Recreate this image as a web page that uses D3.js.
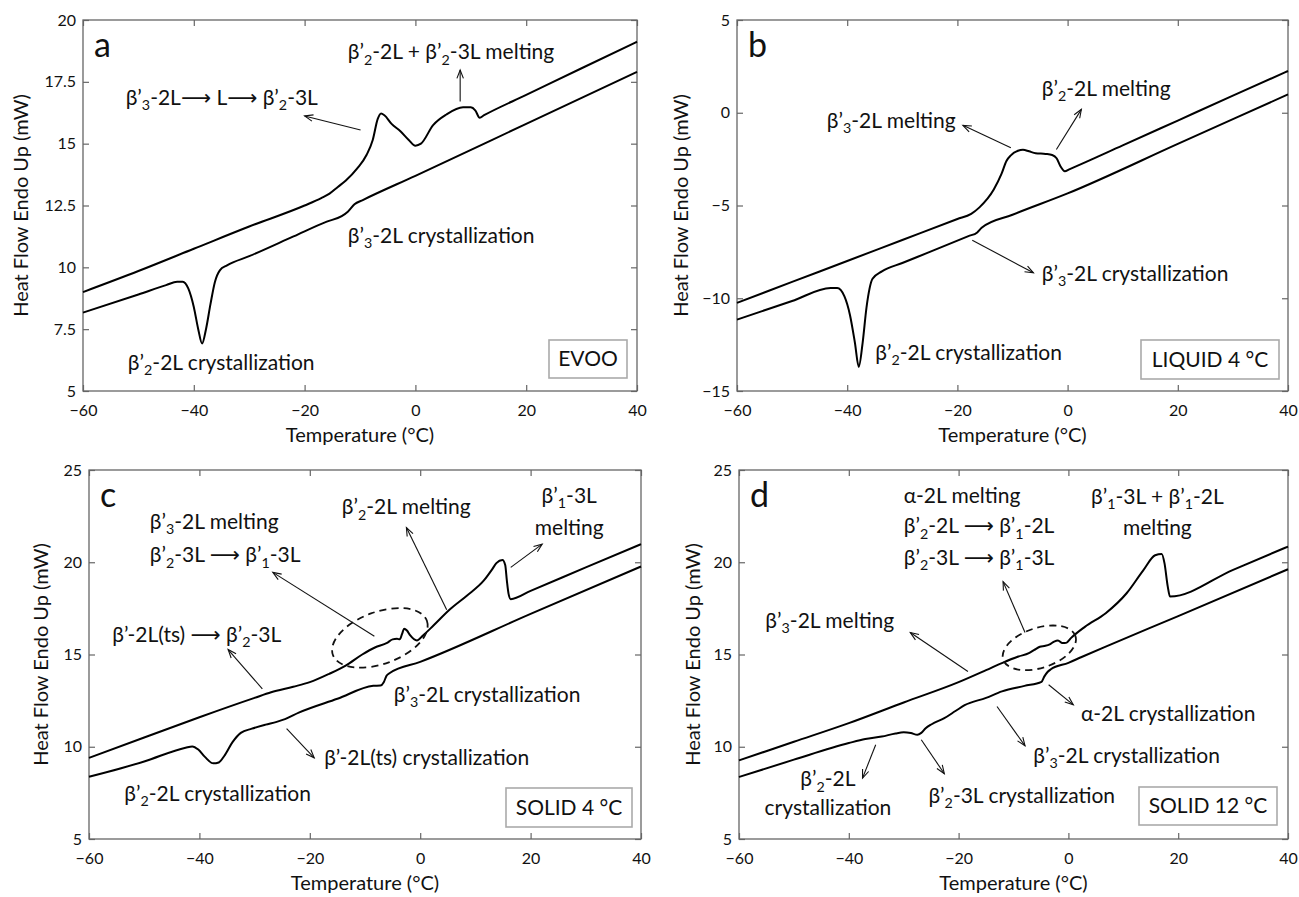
<!DOCTYPE html>
<html>
<head>
<meta charset="utf-8">
<script src="https://cdn.jsdelivr.net/npm/d3@7"></script>
<style>
  body { margin: 0; background: #fff; }
  text { font-family: Lato, "Open Sans", "DejaVu Sans", sans-serif; fill: #111; }
</style>
</head>
<body>
<svg id="chart" width="1299" height="897"></svg>
<script>
// ---- data (temperature °C, heat flow mW) ----
const xTicks = [-60, -40, -20, 0, 20, 40];
const yTicksA = [5, 7.5, 10, 12.5, 15, 17.5, 20];
const yTicksB = [-15, -10, -5, 0, 5];
const yTicksCD = [5, 10, 15, 20, 25];

// EVOO
const heatA = [[-60,9.0],[-50,9.85],[-40,10.75],[-30,11.65],[-20,12.5],[-17,12.8],[-15.5,12.98],[-14,13.25],
  [-12.6,13.5],[-10.5,14.0],[-8.8,14.55],[-7.7,15.15],[-6.8,16.0],[-6.2,16.22],[-5.6,16.15],[-4.3,15.8],
  [-2.7,15.5],[-1.2,15.15],[0,14.92],[1,15.0],[3.2,15.75],[5.6,16.18],[8.6,16.47],[10.0,16.47],[10.8,16.35],
  [11.6,16.05],[12.4,16.15],[20,16.97],[30,18.05],[40,19.12]];
const coolA = [[-60,8.17],[-50,8.9],[-45,9.28],[-43,9.42],[-42,9.42],[-41,9.15],[-40,8.4],[-39.2,7.5],[-38.5,6.92],
  [-37.8,7.5],[-37,8.5],[-36.2,9.4],[-35.3,9.88],[-34,10.08],[-30,10.45],[-22,11.25],[-16,11.85],[-13.3,12.07],
  [-12.2,12.25],[-11,12.55],[-9.5,12.72],[0,13.7],[20,15.8],[40,17.9]];

// LIQUID 4 °C
const heatB = [[-60,-10.25],[-50,-9.12],[-40,-7.99],[-30,-6.86],[-20,-5.73],[-17.5,-5.45],[-16,-5.1],[-13.4,-4.14],
  [-12,-3.3],[-11.1,-2.6],[-10.3,-2.3],[-9,-2.05],[-8.1,-2.0],[-7,-2.08],[-5.8,-2.18],[-4,-2.22],[-2.8,-2.28],
  [-2.0,-2.45],[-1.3,-2.88],[-0.5,-3.15],[0.3,-3.05],[10,-1.76],[20,-0.42],[30,0.92],[40,2.25]];
const coolB = [[-60,-11.15],[-50,-10.15],[-43,-9.45],[-41.8,-9.45],[-40.5,-9.9],[-39.5,-10.9],[-38.6,-12.4],
  [-37.9,-13.7],[-37.2,-12.4],[-36.5,-10.5],[-35.4,-8.95],[-33.7,-8.55],[-30,-8.1],[-25,-7.5],[-18,-6.65],
  [-16.4,-6.45],[-15.6,-6.2],[-10,-5.5],[0,-4.35],[20,-1.68],[40,0.99]];

// SOLID 4 °C
const heatC = [[-60,9.4],[-50,10.5],[-40,11.6],[-30,12.65],[-27,12.95],[-23,13.25],[-20,13.5],[-16.5,13.95],
  [-13.5,14.4],[-10.5,15.0],[-8.2,15.38],[-6,15.63],[-5,15.82],[-4.2,15.85],[-3.7,15.82],[-3.3,16.1],[-2.9,16.4],
  [-2.4,16.3],[-1.8,16.03],[-0.6,15.76],[0.5,16.03],[2.4,16.57],[5.4,17.45],[8.5,18.2],[11.5,19.0],[13.0,19.6],
  [13.8,19.95],[14.9,20.12],[15.4,19.85],[15.7,19.0],[16.0,18.3],[16.4,18.0],[20,18.45],[30,19.72],[40,20.98]];
const coolC = [[-60,8.37],[-50,9.2],[-42.5,9.95],[-41.3,10.02],[-40.2,9.85],[-39,9.45],[-37.5,9.1],[-36.5,9.15],
  [-35.5,9.5],[-34,10.25],[-32.5,10.75],[-30.5,10.98],[-28,11.2],[-26,11.35],[-24.5,11.5],[-22,11.85],[-15,12.6],
  [-8.5,13.3],[-7.2,13.32],[-6.6,13.5],[-6.1,13.85],[-5.5,14.0],[0,14.6],[20,17.2],[40,19.77]];

// SOLID 12 °C
const heatD = [[-60,9.26],[-50,10.27],[-40,11.28],[-30,12.4],[-20,13.5],[-15,14.15],[-12,14.55],[-9.1,14.89],
  [-7.2,15.07],[-6.2,15.25],[-5.2,15.42],[-4.2,15.47],[-3.4,15.55],[-2.6,15.7],[-1.9,15.76],[-1.1,15.62],
  [-0.4,15.63],[0.5,15.9],[3,16.5],[6.8,17.24],[10.6,18.32],[13.6,19.55],[15.8,20.38],[17.0,20.45],[17.5,19.95],
  [18.1,18.68],[18.5,18.14],[30,19.59],[40,20.85]];
const coolD = [[-60,8.36],[-50,9.3],[-40,10.2],[-37,10.42],[-34,10.55],[-31.5,10.72],[-30,10.78],[-28.7,10.74],
  [-27.5,10.65],[-26.8,10.75],[-26,11.0],[-24.9,11.22],[-22.6,11.55],[-20.5,11.95],[-18.9,12.25],[-15,12.65],
  [-12.1,13.0],[-8,13.3],[-4.9,13.52],[-4.4,13.8],[-3.8,14.05],[-3.2,14.2],[0,14.55],[2.3,14.85],[6.8,15.43],
  [20,17.08],[40,19.62]];

const panelLetters = ['a', 'b', 'c', 'd'];
const sampleNames = ['EVOO', 'LIQUID 4 °C', 'SOLID 4 °C', 'SOLID 12 °C'];

// annotations, in data units ("_n" = subscript)
const notesA = [
  {t: 'β’_3-2L⟶ L⟶ β’_2-3L', x: -52.3, y: 16.56},
  {t: 'β’_2-2L + β’_2-3L melting', x: -12.2, y: 18.41},
  {t: 'β’_3-2L crystallization', x: -12.2, y: 10.99},
  {t: 'β’_2-2L crystallization', x: -51.9, y: 5.86}
];
const arrowsA = [[-9.9, 15.55, -20.0, 16.12], [8.08, 16.7, 8.08, 17.98]];

const notesB = [
  {t: 'β’_2-2L melting', x: -4.7, y: 0.9},
  {t: 'β’_3-2L melting', x: -43.7, y: -0.81},
  {t: 'β’_3-2L crystallization', x: -4.7, y: -9.08},
  {t: 'β’_2-2L crystallization', x: -34.9, y: -13.31}
];
const arrowsB = [[-10.3, -1.89, -19.0, -0.68], [-2.04, -1.98, 2.5, 0.18], [-17.3, -6.87, -6.2, -8.63]];

const notesC = [
  {t: 'β’_3-2L melting', x: -49.0, y: 21.79},
  {t: 'β’_2-3L ⟶ β’_1-3L', x: -49.0, y: 19.99},
  {t: 'β’_2-2L melting', x: -14.2, y: 22.6},
  {t: 'β’_1-3L', x: 27, y: 23.2, anchor: 'middle'},
  {t: 'melting', x: 27, y: 21.45, anchor: 'middle'},
  {t: 'β’-2L(ts) ⟶ β’_2-3L', x: -55.8, y: 15.67},
  {t: 'β’_3-2L crystallization', x: -4.8, y: 12.42},
  {t: 'β’-2L(ts) crystallization', x: -17.4, y: 9.0},
  {t: 'β’_2-2L crystallization', x: -53.6, y: 7.05}
];
const arrowsC = [[-8.3, 15.99, -26.7, 19.45], [4.8, 17.43, -2.5, 21.88], [16.4, 19.72, 22.1, 20.98],
  [-28.6, 13.14, -34.8, 15.27], [-24.2, 10.98, -19.2, 9.4]];

const notesD = [
  {t: 'α-2L melting', x: -30.0, y: 23.2},
  {t: 'β’_2-2L ⟶ β’_1-2L', x: -30.0, y: 21.57},
  {t: 'β’_2-3L ⟶ β’_1-3L', x: -30.0, y: 19.86},
  {t: 'β’_1-3L + β’_1-2L', x: 16.2, y: 23.15, anchor: 'middle'},
  {t: 'melting', x: 16.2, y: 21.5, anchor: 'middle'},
  {t: 'β’_3-2L melting', x: -55.2, y: 16.43},
  {t: 'α-2L crystallization', x: 2.3, y: 11.37},
  {t: 'β’_3-2L crystallization', x: -6.4, y: 9.12},
  {t: 'β’_2-2L', x: -43.8, y: 7.85, anchor: 'middle'},
  {t: 'crystallization', x: -43.8, y: 6.3, anchor: 'middle'},
  {t: 'β’_2-3L crystallization', x: -25.5, y: 6.95}
];
const arrowsD = [[-18.3, 14.08, -28.8, 16.19], [-7.9, 16.19, -11.9, 18.95], [-3.6, 13.36, 0.9, 12.27],
  [-13.0, 12.18, -7.9, 10.05], [-35.1, 10.11, -37.5, 8.3], [-26.8, 10.38, -22.6, 8.54]];

const svg = d3.select('#chart');

const panels = [
  {l: 83, r: 637, t: 20, b: 391, yDom: [5, 20], yTicks: yTicksA, heat: heatA, cool: coolA,
   notes: notesA, arrows: arrowsA, ell: null, titleX: 21, box: [78, 38, 10, 13]},
  {l: 737, r: 1288, t: 20, b: 391, yDom: [-15, 5], yTicks: yTicksB, heat: heatB, cool: coolB,
   notes: notesB, arrows: arrowsB, ell: null, titleX: 681, box: [138, 39, 9, 12]},
  {l: 89, r: 641, t: 470, b: 839, yDom: [5, 25], yTicks: yTicksCD, heat: heatC, cool: coolC,
   notes: notesC, arrows: arrowsC, ell: {x: -7.3, y: 15.9, rx: 50, ry: 26, rot: -20}, titleX: 41, box: [126, 39, 9, 12]},
  {l: 739, r: 1288, t: 470, b: 839, yDom: [5, 25], yTicks: yTicksCD, heat: heatD, cool: coolD,
   notes: notesD, arrows: arrowsD, ell: {x: -5.3, y: 15.36, rx: 38, ry: 20, rot: -18}, titleX: 693, box: [138, 38, 11, 14]}
];

const fmt = d3.format('~g');
const frameColor = '#666';

function richText(g, str, x, y, size, anchor) {
  const t = g.append('text').attr('x', x).attr('y', y)
    .attr('font-size', size).attr('text-anchor', anchor || 'start');
  const parts = str.split(/_(\d)/);
  const shift = size * 0.25;
  parts.forEach((s, i) => {
    if (s === '') return;
    if (i % 2 === 1) {
      t.append('tspan').attr('font-size', size * 0.68).attr('dy', shift).text(s);
    } else {
      const ts = t.append('tspan').text(s);
      if (i > 0) ts.attr('dy', -shift);
    }
  });
  return t;
}

function arrow(g, x1, y1, x2, y2) {
  const len = 9, half = Math.PI / 8.5;
  const ang = Math.atan2(y2 - y1, x2 - x1);
  g.append('line').attr('x1', x1).attr('y1', y1).attr('x2', x2).attr('y2', y2)
    .attr('stroke', '#111').attr('stroke-width', 1.1);
  g.append('path')
    .attr('d', `M${x2 - len * Math.cos(ang - half)},${y2 - len * Math.sin(ang - half)}L${x2},${y2}` +
      `L${x2 - len * Math.cos(ang + half)},${y2 - len * Math.sin(ang + half)}`)
    .attr('fill', 'none').attr('stroke', '#111').attr('stroke-width', 1.1);
}

function styleAxis(sel) {
  sel.select('.domain').remove();
  sel.selectAll('line').attr('stroke', frameColor).attr('stroke-width', 1.2);
  sel.selectAll('text').attr('font-size', 16).attr('fill', '#111')
    .attr('font-family', 'Lato, "Open Sans", sans-serif');
  sel.attr('font-family', null).attr('font-size', null);
}

panels.forEach((p, i) => {
  const g = svg.append('g');
  const x = d3.scaleLinear().domain([-60, 40]).range([p.l, p.r]);
  const y = d3.scaleLinear().domain(p.yDom).range([p.b, p.t]);

  g.append('g').attr('transform', `translate(0,${p.b})`)
    .call(d3.axisBottom(x).tickValues(xTicks).tickFormat(fmt).tickSizeInner(-6).tickSizeOuter(0).tickPadding(14))
    .call(styleAxis);
  g.append('g').attr('transform', `translate(0,${p.t})`)
    .call(d3.axisTop(x).tickValues(xTicks).tickFormat('').tickSizeInner(-6).tickSizeOuter(0))
    .call(styleAxis);
  g.append('g').attr('transform', `translate(${p.l},0)`)
    .call(d3.axisLeft(y).tickValues(p.yTicks).tickFormat(fmt).tickSizeInner(-6).tickSizeOuter(0).tickPadding(7))
    .call(styleAxis);
  g.append('g').attr('transform', `translate(${p.r},0)`)
    .call(d3.axisRight(y).tickValues(p.yTicks).tickFormat('').tickSizeInner(-6).tickSizeOuter(0))
    .call(styleAxis);

  g.append('rect').attr('x', p.l).attr('y', p.t).attr('width', p.r - p.l).attr('height', p.b - p.t)
    .attr('fill', 'none').attr('stroke', frameColor).attr('stroke-width', 1.3);

  // titles
  g.append('text').attr('x', (p.l + p.r) / 2).attr('y', p.b + 51).attr('text-anchor', 'middle')
    .attr('font-size', 20).text('Temperature (°C)');
  g.append('text').attr('transform', `translate(${p.titleX},${(p.t + p.b) / 2}) rotate(-90)`)
    .attr('text-anchor', 'middle').attr('dy', '0.35em').attr('font-size', 20).text('Heat Flow Endo Up (mW)');

  // curves
  const line = d3.line().x(d => x(d[0])).y(d => y(d[1])).curve(d3.curveMonotoneX);
  [p.heat, p.cool].forEach(c => {
    g.append('path').datum(c).attr('d', line).attr('fill', 'none')
      .attr('stroke', '#000').attr('stroke-width', 2).attr('stroke-linejoin', 'round');
  });

  // panel letter
  g.append('text').attr('x', p.l + 11).attr('y', p.t + 37).attr('font-size', 34).text(panelLetters[i]);

  // sample box
  const [bw, bh, br, bb] = p.box;
  g.append('rect').attr('x', p.r - br - bw).attr('y', p.b - bb - bh).attr('width', bw).attr('height', bh)
    .attr('fill', '#fff').attr('stroke', '#aaa').attr('stroke-width', 1.6);
  g.append('text').attr('x', p.r - br - bw / 2).attr('y', p.b - bb - bh / 2).attr('dy', '0.35em')
    .attr('text-anchor', 'middle').attr('font-size', 21).text(sampleNames[i]);

  // annotations
  p.notes.forEach(n => richText(g, n.t, x(n.x), y(n.y), 21, n.anchor));
  p.arrows.forEach(a => arrow(g, x(a[0]), y(a[1]), x(a[2]), y(a[3])));
  if (p.ell) {
    g.append('ellipse').attr('rx', p.ell.rx).attr('ry', p.ell.ry)
      .attr('transform', `translate(${x(p.ell.x)},${y(p.ell.y)}) rotate(${p.ell.rot})`)
      .attr('fill', 'none').attr('stroke', '#111').attr('stroke-width', 1.8).attr('stroke-dasharray', '7,5');
  }
});
</script>
</body>
</html>
